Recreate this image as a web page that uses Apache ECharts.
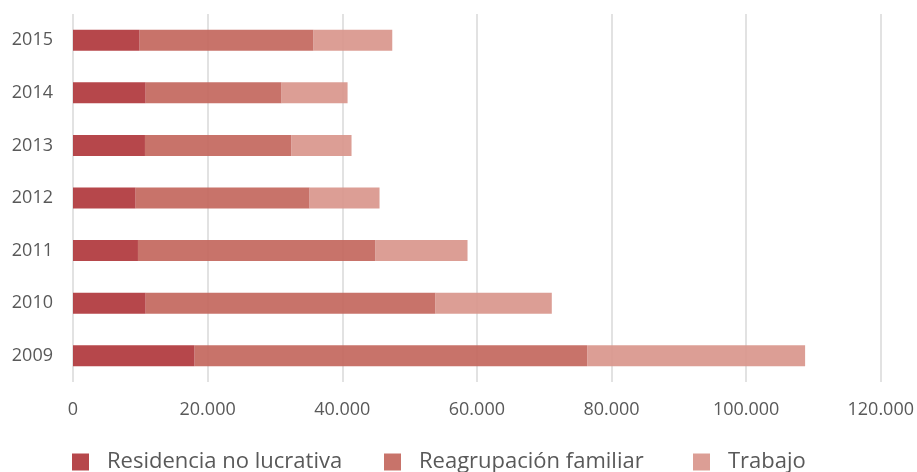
<!DOCTYPE html>
<html>
<head>
<meta charset="utf-8">
<script src="https://cdn.jsdelivr.net/npm/echarts@6/dist/echarts.min.js"></script>
<style>
  html, body { margin: 0; padding: 0; background: #fff; }
  #chart { width: 917px; height: 472px; }
</style>
</head>
<body>
<div id="chart"></div>
<script>
// years, bottom to top
const years = ['2009', '2010', '2011', '2012', '2013', '2014', '2015']
const residencia = [18070, 10800, 9650, 9310, 10690, 10800, 9900]
const reagrupacion = [58310, 43060, 35300, 25840, 21780, 20190, 25840]
const trabajo = [32380, 17270, 13660, 10390, 8910, 9800, 11690]
const xTickLabels = ['0', '20.000', '40.000', '60.000', '80.000', '100.000', '120.000']

const names = ['Residencia no lucrativa', 'Reagrupación familiar', 'Trabajo']
const colors = ['#B0393D', '#C4685F', '#D9978D']
const legendLeft = [72, 384, 693]

const fontFamily = '"Open Sans", sans-serif'
const textColor = '#595959'

const chart = echarts.init(document.getElementById('chart'), null, { renderer: 'canvas' })

function barSeries(name, data, color) {
  return {
    name: name,
    type: 'bar',
    stack: 'total',
    barWidth: '40%',
    data: data,
    itemStyle: { color: color, opacity: 0.93 },
    animation: false
  }
}

chart.setOption({
  color: colors,
  grid: {
    left: 73,
    right: 35,
    top: 14,
    bottom: 90,
    containLabel: false
  },
  legend: names.map((n, i) => ({
    data: [n],
    left: legendLeft[i],
    top: 451,
    padding: 0,
    icon: 'rect',
    itemWidth: 17,
    itemHeight: 17,
    selectedMode: false,
    textStyle: {
      fontFamily: fontFamily,
      fontSize: 22,
      lineHeight: 22,
      color: textColor,
      padding: [0, 0, 0, 13]
    }
  })),
  xAxis: {
    type: 'value',
    min: 0,
    max: 120000,
    interval: 20000,
    axisLine: { show: false },
    axisTick: { show: false },
    splitLine: { show: true, lineStyle: { color: '#d9d9d9', width: 1.5 } },
    axisLabel: {
      margin: 19,
      fontFamily: fontFamily,
      fontSize: 18,
      color: textColor,
      formatter: v => xTickLabels[Math.round(v / 20000)]
    }
  },
  yAxis: {
    type: 'category',
    data: years,
    axisLine: { show: false },
    axisTick: { show: false },
    axisLabel: {
      margin: 20,
      fontFamily: fontFamily,
      fontSize: 18,
      color: textColor
    }
  },
  series: [
    barSeries(names[0], residencia, colors[0]),
    barSeries(names[1], reagrupacion, colors[1]),
    barSeries(names[2], trabajo, colors[2])
  ]
})
</script>
</body>
</html>
